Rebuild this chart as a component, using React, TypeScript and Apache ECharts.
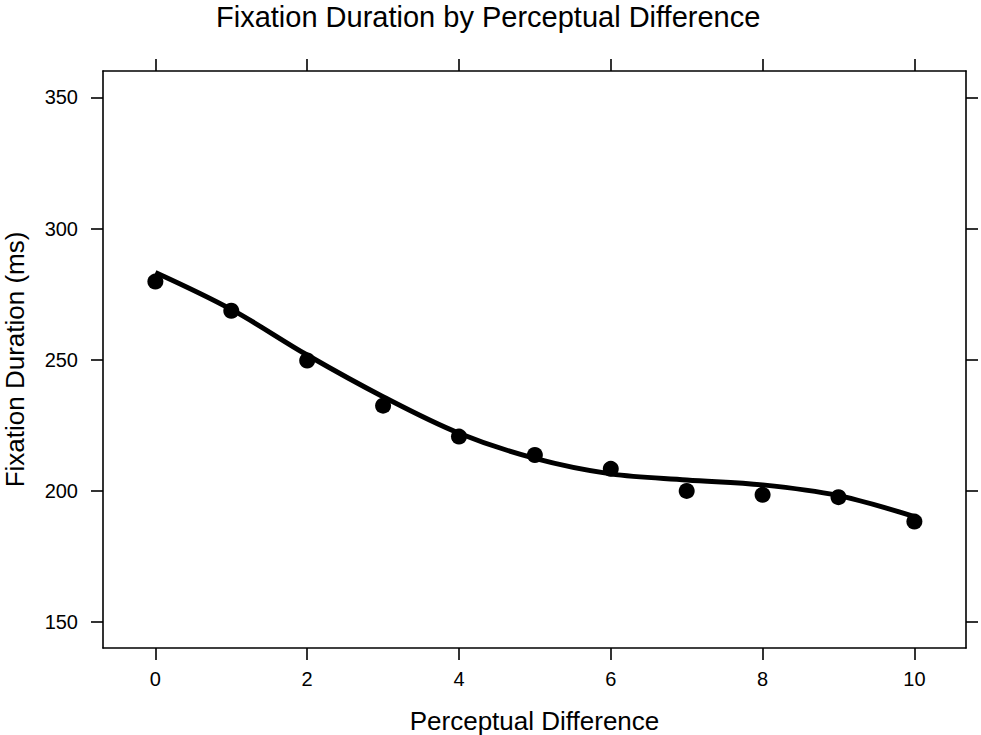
import React, { useEffect, useRef } from "react";
import * as echarts from "echarts";

const perceptualDiff = [0, 1, 2, 3, 4, 5, 6, 7, 8, 9, 10];
const fixationMeans = [279.8, 268.7, 249.7, 232.5, 220.7, 213.7, 208.4, 200.0, 198.5, 197.6, 188.3];
const smoothFit = [283.3, 269.2, 251.8, 235.9, 222.0, 212.4, 206.5, 204.2, 202.3, 198.2, 190.2];
const xTicks = [0, 2, 4, 6, 8, 10];
const yTicks = [150, 200, 250, 300, 350];

const FONT = "Liberation Sans, Arial, Helvetica, sans-serif";

export default function App() {
  const ref = useRef<HTMLDivElement>(null);
  useEffect(() => {
    document.body.style.margin = "0";
    const chart = echarts.init(ref.current!, null, { renderer: "svg" });
    const axisLine = { show: true, onZero: false, lineStyle: { color: "#000", width: 1.6 } };
    const tick = { show: true, length: 12, inside: false, lineStyle: { color: "#000", width: 1.6 } };
    chart.setOption({
      animation: false,
      backgroundColor: "#fff",
      title: {
        text: "Fixation Duration by Perceptual Difference",
        left: 216,
        top: 2,
        padding: 0,
        textStyle: { fontFamily: FONT, fontSize: 29, lineHeight: 30, fontWeight: "normal", color: "#000" },
      },
      grid: { left: 103, right: 15, top: 71, bottom: 87, containLabel: false, outerBoundsMode: "none" },
      xAxis: [
        {
          type: "value",
          min: -0.69,
          max: 10.68,
          position: "bottom",
          axisLine,
          axisTick: { ...tick, customValues: xTicks },
          axisLabel: { customValues: xTicks, fontFamily: FONT, fontSize: 20, color: "#000", margin: 21 },
          splitLine: { show: false },
          name: "Perceptual Difference",
          nameLocation: "middle",
          nameGap: 61,
          nameTextStyle: { fontFamily: FONT, fontSize: 26, lineHeight: 24, color: "#000" },
        },
        {
          type: "value",
          min: -0.69,
          max: 10.68,
          position: "top",
          axisLine,
          axisTick: { ...tick, customValues: xTicks },
          axisLabel: { show: false },
          splitLine: { show: false },
        },
      ],
      yAxis: [
        {
          type: "value",
          min: 140.1,
          max: 360.1,
          position: "left",
          axisLine,
          axisTick: { ...tick, customValues: yTicks },
          axisLabel: { customValues: yTicks, fontFamily: FONT, fontSize: 20, color: "#000", margin: 25 },
          splitLine: { show: false },
          name: "Fixation Duration (ms)",
          nameLocation: "middle",
          nameGap: 75,
          nameTextStyle: { fontFamily: FONT, fontSize: 26, lineHeight: 26, color: "#000" },
        },
        {
          type: "value",
          min: 140.1,
          max: 360.1,
          position: "right",
          axisLine,
          axisTick: { ...tick, customValues: yTicks },
          axisLabel: { show: false },
          splitLine: { show: false },
        },
      ],
      series: [
        {
          type: "scatter",
          data: perceptualDiff.map((x, i) => [x, fixationMeans[i]]),
          symbol: "circle",
          symbolSize: 16,
          itemStyle: { color: "#000", opacity: 1 },
          z: 3,
        },
        {
          type: "line",
          data: perceptualDiff.map((x, i) => [x, smoothFit[i]]),
          smooth: 0.35,
          showSymbol: false,
          lineStyle: { color: "#000", width: 5 },
          z: 4,
        },
      ],
    });
    return () => chart.dispose();
  }, []);
  return <div ref={ref} style={{ width: 981, height: 735, position: "absolute", left: 0, top: 0 }} />;
}
